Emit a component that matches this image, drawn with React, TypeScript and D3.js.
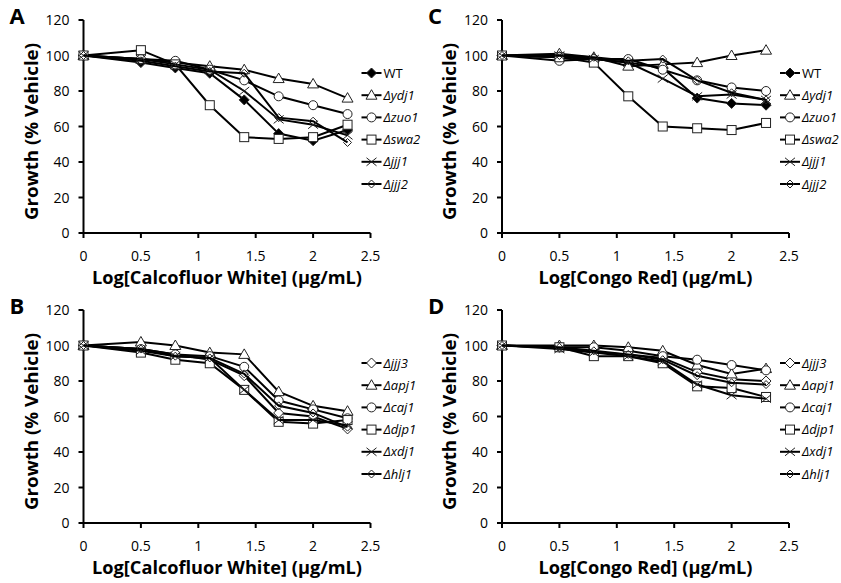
import React from "react";
import * as d3 from "d3";

const xValues = [0, 0.5, 0.8, 1.1, 1.4, 1.7, 2.0, 2.3];
const xTicks = [0, 0.5, 1, 1.5, 2, 2.5];
const yTicks = [0, 20, 40, 60, 80, 100, 120];

// panel A - calcofluor white, set 1
const cfwWT = [100, 96, 93, 90, 75, 56, 52, 58];
const cfwYdj1 = [100, 98, 96, 94, 92, 87, 84, 76];
const cfwZuo1 = [100, 98, 97, 92, 86, 77, 72, 67];
const cfwSwa2 = [100, 103, 95, 72, 54, 53, 54, 61];
const cfwJjj1 = [100, 98, 95, 92, 80, 64, 61, 55];
const cfwJjj2 = [100, 97, 94, 91, 90, 65, 63, 51];

// panel C - congo red, set 1
const crWT = [100, 99, 98, 96, 93, 76, 73, 72];
const crYdj1 = [100, 101, 99, 94, 95, 96, 100, 103];
const crZuo1 = [100, 97, 98, 98, 92, 86, 82, 80];
const crSwa2 = [100, 99, 96, 77, 60, 59, 58, 62];
const crJjj1 = [100, 100, 98, 96, 87, 77, 78, 75];
const crJjj2 = [100, 100, 99, 97, 98, 86, 79, 75];

// panel B - calcofluor white, set 2
const cfwJjj3 = [100, 98, 95, 92, 83, 62, 60, 53];
const cfwApj1 = [100, 102, 100, 96, 95, 74, 66, 63];
const cfwCaj1 = [100, 98, 95, 94, 88, 69, 64, 59];
const cfwDjp1 = [100, 96, 92, 90, 75, 57, 56, 58];
const cfwXdj1 = [100, 97, 94, 93, 75, 58, 58, 55];
const cfwHlj1 = [100, 98, 94, 93, 84, 66, 62, 54];

// panel D - congo red, set 2
const crJjj3 = [100, 99, 96, 95, 93, 85, 81, 80];
const crApj1 = [100, 100, 100, 99, 97, 89, 84, 87];
const crCaj1 = [100, 99, 99, 97, 94, 92, 89, 86];
const crDjp1 = [100, 99, 94, 94, 90, 77, 76, 71];
const crXdj1 = [100, 98, 96, 94, 91, 78, 72, 70];
const crHlj1 = [100, 99, 97, 95, 92, 83, 79, 78];

type Series = { name: string; italic: boolean; marker: string; values: number[] };

const setOne = (v: number[][]): Series[] => [
  { name: "WT", italic: false, marker: "filledDiamond", values: v[0] },
  { name: "ydj1", italic: true, marker: "triangle", values: v[1] },
  { name: "zuo1", italic: true, marker: "circle", values: v[2] },
  { name: "swa2", italic: true, marker: "square", values: v[3] },
  { name: "jjj1", italic: true, marker: "cross", values: v[4] },
  { name: "jjj2", italic: true, marker: "smallDiamond", values: v[5] },
];

const setTwo = (v: number[][]): Series[] => [
  { name: "jjj3", italic: true, marker: "openDiamond", values: v[0] },
  { name: "apj1", italic: true, marker: "triangle", values: v[1] },
  { name: "caj1", italic: true, marker: "circle", values: v[2] },
  { name: "djp1", italic: true, marker: "square", values: v[3] },
  { name: "xdj1", italic: true, marker: "cross", values: v[4] },
  { name: "hlj1", italic: true, marker: "smallDiamond", values: v[5] },
];

const FONT = "'Open Sans', 'DejaVu Sans', sans-serif";

const Marker = ({ type, x, y }: { type: string; x: number; y: number }) => {
  const st = { stroke: "#222", strokeWidth: 1 };
  if (type === "filledDiamond")
    return <path d={`M${x},${y - 5}L${x + 5},${y}L${x},${y + 5}L${x - 5},${y}Z`} fill="#000" {...st} />;
  if (type === "triangle")
    return <path d={`M${x},${y - 5.5}L${x + 5.5},${y + 4}L${x - 5.5},${y + 4}Z`} fill="#fff" {...st} />;
  if (type === "circle") return <circle cx={x} cy={y} r={4.5} fill="#fff" {...st} />;
  if (type === "square") return <rect x={x - 4.5} y={y - 4.5} width={9} height={9} fill="#fff" {...st} />;
  if (type === "cross")
    return <path d={`M${x - 5},${y - 4}L${x + 5},${y + 4}M${x - 5},${y + 4}L${x + 5},${y - 4}`} fill="none" {...st} />;
  if (type === "openDiamond")
    return <path d={`M${x},${y - 5}L${x + 5},${y}L${x},${y + 5}L${x - 5},${y}Z`} fill="#fff" {...st} />;
  return <path d={`M${x},${y - 4}L${x + 4},${y}L${x},${y + 4}L${x - 4},${y}Z`} fill="none" {...st} />;
};

type PanelProps = {
  letter: string;
  ox: number;
  oy: number;
  series: Series[];
  xLabel: string;
  xLabelWidth: number;
};

const Panel = ({ letter, ox, oy, series, xLabel, xLabelWidth }: PanelProps) => {
  const x = d3.scaleLinear().domain([0, 2.5]).range([ox, ox + 287]);
  const y = d3.scaleLinear().domain([0, 120]).range([oy + 233, oy + 20]);
  const line = d3
    .line<number>()
    .x((_, i) => x(xValues[i]))
    .y((d) => y(d));
  const legX = ox + 288;
  return (
    <g>
      <text x={ox - 74} y={oy + 24} fontSize={22} fontWeight="bold" fontFamily={FONT}>
        {letter}
      </text>
      {/* axes */}
      <line x1={x(0)} x2={x(2.5)} y1={y(0)} y2={y(0)} stroke="#000" strokeWidth={2} />
      <line x1={x(0)} x2={x(0)} y1={y(0)} y2={y(120)} stroke="#000" strokeWidth={2} />
      {yTicks.map((t) => (
        <g key={"y" + t}>
          <line x1={x(0) - 5} x2={x(0)} y1={y(t)} y2={y(t)} stroke="#000" strokeWidth={2} />
          <text x={x(0) - 14} y={y(t) + 5} textAnchor="end" fontSize={14} fontFamily={FONT}>
            {t}
          </text>
        </g>
      ))}
      {xTicks.map((t) => (
        <g key={"x" + t}>
          <line x1={x(t)} x2={x(t)} y1={y(0)} y2={y(0) + 5} stroke="#000" strokeWidth={2} />
          <text x={x(t)} y={y(0) + 28} textAnchor="middle" fontSize={14} fontFamily={FONT}>
            {t}
          </text>
        </g>
      ))}
      <text
        transform={`translate(${ox - 46},${(y(0) + y(120)) / 2 + 5}) rotate(-90)`}
        textAnchor="middle"
        fontSize={18}
        fontWeight="bold"
        fontFamily={FONT}
        textLength={177}
        lengthAdjust="spacingAndGlyphs"
      >
        Growth (% Vehicle)
      </text>
      <text
        x={x(1.25)}
        y={y(0) + 51}
        textAnchor="middle"
        fontSize={18}
        fontWeight="bold"
        fontFamily={FONT}
        textLength={xLabelWidth}
        lengthAdjust="spacingAndGlyphs"
      >
        {xLabel}
      </text>
      {/* series */}
      {series.map((s) => (
        <g key={s.name}>
          <path d={line(s.values) || ""} fill="none" stroke="#000" strokeWidth={2} />
          {s.values.map((v, i) => (
            <Marker key={i} type={s.marker} x={x(xValues[i])} y={y(v)} />
          ))}
        </g>
      ))}
      {/* legend */}
      {series.map((s, i) => {
        const ly = oy + 73 + i * 22.2;
        return (
          <g key={"leg" + s.name}>
            <line x1={legX - 10} x2={legX + 10} y1={ly} y2={ly} stroke="#000" strokeWidth={2} />
            <Marker type={s.marker} x={legX} y={ly} />
            <text x={legX + 12} y={ly + 4.5} fontSize={13} fontFamily={FONT} fontStyle={s.italic ? "italic" : "normal"}>
              {s.italic ? "Δ" + s.name : s.name}
            </text>
          </g>
        );
      })}
    </g>
  );
};

export default function App() {
  return (
    <svg
      width={841}
      height={583}
      style={{ position: "absolute", left: 0, top: 0, background: "#fff" }}
    >
      <Panel
        letter="A"
        ox={83.5}
        oy={0}
        xLabel="Log[Calcofluor White] (μg/mL)"
        xLabelWidth={270}
        series={setOne([cfwWT, cfwYdj1, cfwZuo1, cfwSwa2, cfwJjj1, cfwJjj2])}
      />
      <Panel
        letter="C"
        ox={502}
        oy={0}
        xLabel="Log[Congo Red] (μg/mL)"
        xLabelWidth={214}
        series={setOne([crWT, crYdj1, crZuo1, crSwa2, crJjj1, crJjj2])}
      />
      <Panel
        letter="B"
        ox={83.5}
        oy={290}
        xLabel="Log[Calcofluor White] (μg/mL)"
        xLabelWidth={270}
        series={setTwo([cfwJjj3, cfwApj1, cfwCaj1, cfwDjp1, cfwXdj1, cfwHlj1])}
      />
      <Panel
        letter="D"
        ox={502}
        oy={290}
        xLabel="Log[Congo Red] (μg/mL)"
        xLabelWidth={214}
        series={setTwo([crJjj3, crApj1, crCaj1, crDjp1, crXdj1, crHlj1])}
      />
    </svg>
  );
}
